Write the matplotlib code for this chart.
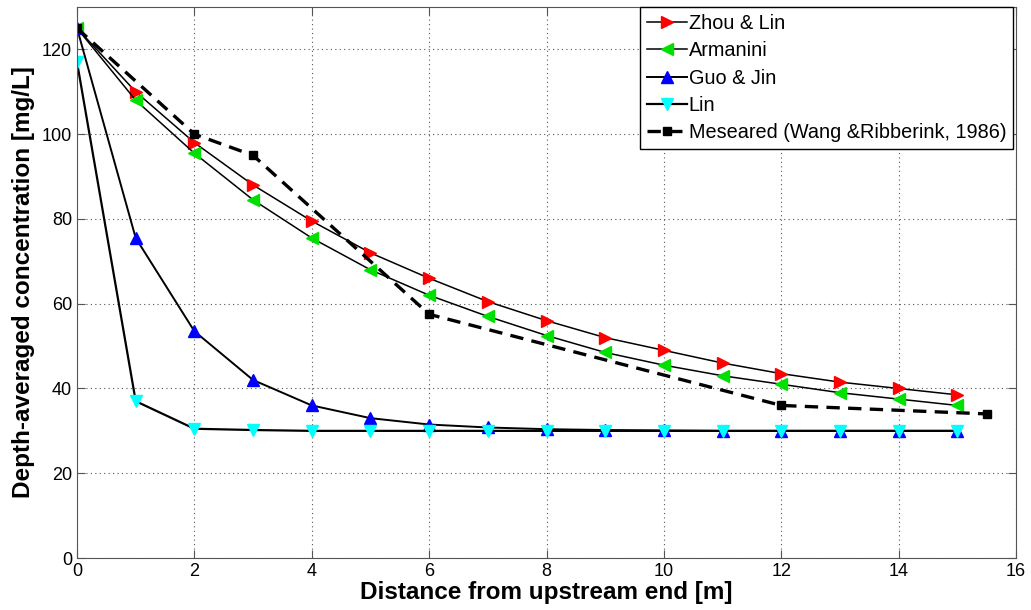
import numpy as np
import matplotlib.pyplot as plt

plt.rcParams['font.family'] = ['Liberation Sans', 'DejaVu Sans']

# distance from upstream end [m]
x_model = [0, 1, 2, 3, 4, 5, 6, 7, 8, 9, 10, 11, 12, 13, 14, 15]
zhou_lin = [125, 110, 98, 88, 79.5, 72, 66, 60.5, 56, 52, 49, 46, 43.5, 41.5, 40, 38.5]
armanini = [125, 108, 95.5, 84.5, 75.5, 68, 62, 57, 52.5, 48.5, 45.5, 43, 41, 39, 37.5, 36]
guo_jin = [125, 75.5, 53.5, 42, 36, 33, 31.5, 30.8, 30.4, 30.2, 30.1, 30, 30, 30, 30, 30]
lin = [117, 37, 30.5, 30.2, 30, 30, 30, 30, 30, 30, 30, 30, 30, 30, 30, 30]

x_meas = [0, 2, 3, 6, 12, 15.5]
measured = [125, 100, 95, 57.5, 36, 34]

fig = plt.figure(figsize=(10.31, 6.10), dpi=100)
ax = fig.add_axes([0.0747, 0.0852, 0.9108, 0.9033])

ms = 9
ax.plot(x_model, zhou_lin, '-', color='k', lw=1.1, marker='>', ms=ms,
        mfc='#ff0000', mec='#ff0000', label='Zhou & Lin')
ax.plot(x_model, armanini, '-', color='k', lw=1.1, marker='<', ms=ms,
        mfc='#00e000', mec='#00e000', label='Armanini')
ax.plot(x_model, guo_jin, '-', color='k', lw=1.4, marker='^', ms=ms,
        mfc='#0000ff', mec='#0000ff', label='Guo & Jin')
ax.plot(x_model, lin, '-', color='k', lw=1.6, marker='v', ms=ms,
        mfc='#00ffff', mec='#00ffff', label='Lin')
ax.plot(x_meas, measured, '--', color='k', lw=2.4, marker='s', ms=6,
        mfc='k', mec='k', dashes=(4, 2.5), label='Meseared (Wang &Ribberink, 1986)')

ax.set_xlim(0, 16)
ax.set_ylim(0, 130)
ax.set_xticks(np.arange(0, 17, 2))
ax.set_yticks(np.arange(0, 121, 20))
ax.tick_params(direction='in', top=True, right=True, labelsize=13, length=6, color='#555555')
ax.grid(True, linestyle=(0, (1, 3)), color='#555555', lw=0.8)
for s in ax.spines.values():
    s.set_color('#555555')

ax.set_xlabel('Distance from upstream end [m]', fontsize=17.5, fontweight='bold', labelpad=1)
ax.set_ylabel('Depth-averaged concentration [mg/L]', fontsize=17.5, fontweight='bold', labelpad=5)

leg = ax.legend(loc='upper right', fontsize=14.3, frameon=True, fancybox=False,
                edgecolor='k', framealpha=1, borderaxespad=0, handlelength=2.0,
                handletextpad=0.1, labelspacing=0.42, borderpad=0.35,
                bbox_to_anchor=(0.997, 1.0))
leg.get_frame().set_linewidth(1.0)

fig.savefig('out.png', dpi=100)
